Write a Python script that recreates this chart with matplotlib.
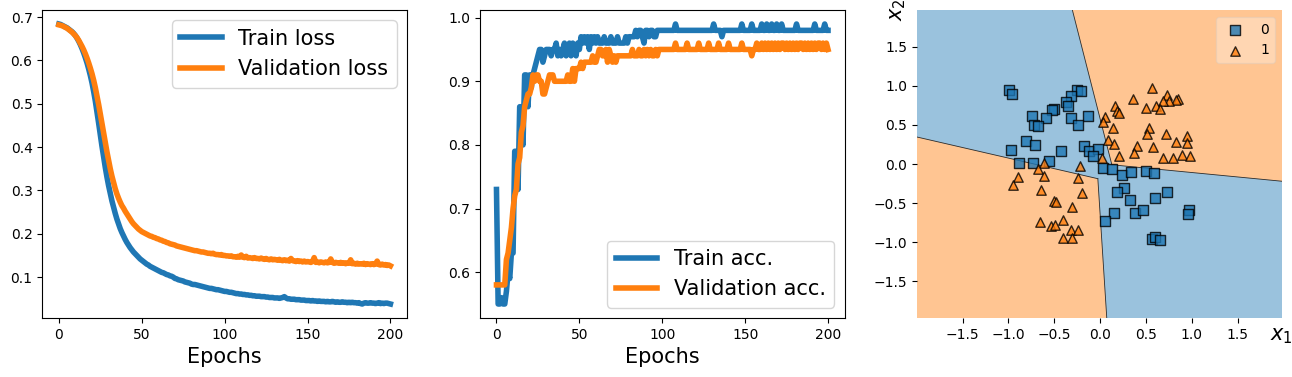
import numpy as np
import matplotlib
matplotlib.use("Agg")
import matplotlib.pyplot as plt
from matplotlib.patches import Polygon

# ---------------- data ----------------
train_loss = [
    0.684, 0.683, 0.681, 0.679, 0.677, 0.675, 0.672, 0.669, 0.666, 0.662,
    0.657, 0.651, 0.644, 0.636, 0.627, 0.617, 0.606, 0.594, 0.580, 0.565,
    0.548, 0.528, 0.506, 0.481, 0.455, 0.428, 0.402, 0.377, 0.353, 0.331,
    0.311, 0.293, 0.276, 0.261, 0.247, 0.234, 0.223, 0.212, 0.203, 0.195,
    0.187, 0.180, 0.174, 0.168, 0.163, 0.158, 0.154, 0.150, 0.146, 0.142,
    0.139, 0.136, 0.133, 0.130, 0.128, 0.125, 0.123, 0.121, 0.119, 0.117,
    0.115, 0.113, 0.111, 0.110, 0.108, 0.106, 0.105, 0.103, 0.102, 0.100,
    0.097, 0.096, 0.094, 0.093, 0.092, 0.091, 0.089, 0.088, 0.087, 0.086,
    0.084, 0.083, 0.083, 0.082, 0.081, 0.080, 0.079, 0.078, 0.077, 0.076,
    0.075, 0.074, 0.074, 0.073, 0.072, 0.071, 0.071, 0.070, 0.069, 0.068,
    0.067, 0.067, 0.066, 0.065, 0.065, 0.064, 0.063, 0.062, 0.062, 0.061,
    0.061, 0.060, 0.060, 0.059, 0.059, 0.058, 0.058, 0.057, 0.057, 0.056,
    0.056, 0.056, 0.055, 0.055, 0.055, 0.054, 0.054, 0.053, 0.053, 0.053,
    0.052, 0.052, 0.052, 0.051, 0.052, 0.053, 0.055, 0.052, 0.050, 0.050,
    0.049, 0.049, 0.049, 0.048, 0.048, 0.048, 0.047, 0.047, 0.047, 0.046,
    0.046, 0.046, 0.045, 0.046, 0.045, 0.045, 0.044, 0.045, 0.044, 0.044,
    0.044, 0.043, 0.044, 0.043, 0.043, 0.044, 0.043, 0.042, 0.043, 0.042,
    0.042, 0.043, 0.042, 0.042, 0.041, 0.042, 0.041, 0.042, 0.041, 0.041,
    0.040, 0.041, 0.039, 0.038, 0.040, 0.041, 0.040, 0.040, 0.041, 0.040,
    0.040, 0.039, 0.040, 0.041, 0.039, 0.040, 0.039, 0.040, 0.040, 0.039, 0.038,
]

val_loss = [
    0.682, 0.681, 0.680, 0.678, 0.676, 0.674, 0.671, 0.668, 0.665, 0.661,
    0.657, 0.652, 0.646, 0.639, 0.632, 0.624, 0.615, 0.605, 0.594, 0.582,
    0.569, 0.554, 0.537, 0.518, 0.498, 0.476, 0.454, 0.432, 0.410, 0.389,
    0.369, 0.350, 0.333, 0.318, 0.304, 0.292, 0.282, 0.273, 0.265, 0.259,
    0.252, 0.246, 0.240, 0.234, 0.228, 0.223, 0.219, 0.215, 0.211, 0.208,
    0.205, 0.203, 0.201, 0.199, 0.197, 0.195, 0.194, 0.192, 0.191, 0.189,
    0.188, 0.186, 0.185, 0.183, 0.182, 0.180, 0.179, 0.177, 0.176, 0.175,
    0.174, 0.172, 0.171, 0.170, 0.169, 0.168, 0.167, 0.166, 0.165, 0.164,
    0.163, 0.162, 0.161, 0.161, 0.160, 0.159, 0.158, 0.158, 0.157, 0.156,
    0.155, 0.155, 0.154, 0.155, 0.153, 0.152, 0.152, 0.151, 0.152, 0.150,
    0.150, 0.149, 0.149, 0.148, 0.149, 0.147, 0.147, 0.146, 0.148, 0.146,
    0.151, 0.146, 0.145, 0.148, 0.144, 0.145, 0.144, 0.143, 0.145, 0.143,
    0.143, 0.142, 0.144, 0.142, 0.141, 0.143, 0.141, 0.140, 0.142, 0.140,
    0.141, 0.140, 0.139, 0.141, 0.139, 0.138, 0.140, 0.138, 0.139, 0.137,
    0.143, 0.138, 0.137, 0.136, 0.138, 0.136, 0.137, 0.135, 0.137, 0.135,
    0.136, 0.135, 0.134, 0.136, 0.145, 0.134, 0.135, 0.133, 0.135, 0.134,
    0.133, 0.135, 0.133, 0.134, 0.142, 0.134, 0.132, 0.134, 0.133, 0.132,
    0.134, 0.132, 0.133, 0.131, 0.133, 0.132, 0.140, 0.131, 0.132, 0.130,
    0.132, 0.130, 0.131, 0.130, 0.132, 0.129, 0.131, 0.130, 0.129, 0.131,
    0.129, 0.130, 0.137, 0.129, 0.128, 0.130, 0.128, 0.129, 0.127, 0.128, 0.126,
]

# accuracies in percent
train_acc_pct = [
    73,
    55, 55, 56, 55, 55,
    57, 60, 59, 63, 63,
    79, 79, 73, 86, 86,
    80, 91, 91, 86, 91,
    89, 91, 92, 93, 94,
    95, 95, 93, 94, 95,
    95, 95, 94, 95, 95, 96, 94, 95, 94, 95,
    96, 94, 95, 96, 94, 96, 95, 94, 96, 95,
    97, 96, 97, 96, 97, 95, 97, 96, 97, 96, 97, 96,
    96, 96, 97, 96, 96, 96, 97, 96, 96, 96, 97, 96, 96, 96, 96, 97, 96, 97,
    97, 97, 97, 98, 97, 98, 98, 97, 96, 98, 98, 97, 98, 98, 97, 97, 98, 98, 98, 98,
    98, 98, 98, 98, 98, 98, 98, 99, 98, 98,
    98, 98, 98, 98, 98, 98, 98, 98, 98, 98,
    98, 98, 98, 98, 98, 98, 98, 98, 98, 98,
    99, 98, 98, 98, 98, 97, 98, 98, 98, 98,
    98, 98, 98, 98, 98, 98, 98, 99, 98, 98,
    98, 98, 98, 99, 98, 98, 98, 98, 98, 99,
    98, 98, 99, 98, 98, 99, 98, 98, 99, 98,
    98, 99, 98, 98, 98, 98, 98, 98, 98, 98,
    99, 98, 98, 98, 98, 98, 98, 98, 98, 98,
    98, 99, 98, 98, 98, 98, 98, 99, 98, 98,
]

val_acc_pct = [
    58, 58, 58, 58, 58, 58,
    62, 63, 65, 67, 70,
    72, 73, 77, 78, 82,
    83, 86, 87, 88, 88,
    89, 91, 90, 91, 91,
    90, 90, 88, 88, 89,
    90, 91, 91, 91, 90,
    90, 90, 90, 90, 90, 90, 90, 91, 90, 90,
    92, 90, 92, 92, 92,
    93, 92, 93, 93, 93,
    93, 93, 94, 93, 93, 94, 95,
    95, 94, 94, 95, 93, 95, 94, 93,
    94, 93, 94, 94, 94, 94, 94, 94, 94, 94, 94, 95, 94, 94, 94,
    95, 94, 94, 95, 94, 95, 94, 95, 94, 94, 95, 94, 95, 95, 95,
    95, 95, 95, 95, 95, 95, 95, 96, 95, 95,
    95, 95, 95, 95, 96, 95, 95, 95, 95, 95,
    95, 96, 95, 95, 95, 95, 95, 96, 95, 95,
    95, 95, 95, 96, 95, 95, 95, 95, 95, 96,
    95, 95, 95, 95, 95, 95, 95, 96, 95, 95,
    95, 95, 95, 94, 95, 95, 96, 95, 95, 96,
    95, 96, 95, 96, 95, 96, 95, 96, 95, 96,
    95, 96, 96, 95, 96, 95, 96, 95, 96, 95,
    96, 95, 96, 96, 95, 96, 95, 96, 95, 96,
    95, 96, 95, 96, 96, 95, 96, 95, 96, 95,
]

# validation points, class 0 (squares)
class0_x = [-0.997, -0.964, -0.254, -0.206, -0.322, -0.370, -0.348, -0.505, -0.523,
            -0.745, -0.585, -0.322, -0.133, -0.716, -0.680, -0.239, -0.811, -0.705,
            -0.971, -0.428, -0.177, -0.122, -0.024, -0.078, -0.887, -0.734, -0.556,
            0.031, 0.129, 0.239, 0.337, 0.498, 0.589, 0.261, 0.181, 0.727, 0.323,
            0.596, 0.151, 0.380, 0.464, 0.053, 0.971, 0.964, 0.567, 0.600, 0.658]
class0_y = [0.953, 0.897, 0.953, 0.932, 0.876, 0.791, 0.748, 0.705, 0.697,
            0.615, 0.590, 0.590, 0.615, 0.500, 0.491, 0.500, 0.299, 0.244,
            0.179, 0.162, 0.235, 0.171, 0.192, 0.098, 0.013, 0.013, 0.038,
            -0.051, -0.064, -0.137, -0.098, -0.090, -0.115, -0.308, -0.363, -0.359, -0.462,
            -0.436, -0.628, -0.628, -0.590, -0.726, -0.585, -0.637, -0.957, -0.936, -0.970]

# validation points, class 1 (triangles)
class1_x = [0.567, 0.727, 0.851, 0.833, 0.749, 0.687, 0.359, 0.158, 0.184, 0.206,
            0.498, 0.614, 0.651, 0.057, 0.031, 0.140, 0.534, 0.509, 0.716, 0.949,
            0.949, 0.825, 0.086, 0.151, 0.402, 0.578, 0.370, 0.206, 0.020, 0.687,
            0.796, 0.891, 0.982, -0.220, -0.610, -0.680, -0.607, -0.898, -0.945, -0.242,
            -0.202, -0.643, -0.505, -0.483, -0.311, -0.658, -0.538, -0.494, -0.407, -0.319,
            -0.239, -0.407, -0.301]
class1_y = [0.970, 0.889, 0.829, 0.816, 0.808, 0.808, 0.833, 0.748, 0.675, 0.650,
            0.718, 0.739, 0.705, 0.603, 0.538, 0.462, 0.462, 0.389, 0.389, 0.363,
            0.269, 0.278, 0.312, 0.256, 0.226, 0.222, 0.141, 0.107, 0.077, 0.077,
            0.077, 0.120, 0.098, -0.021, 0.013, -0.064, -0.150, -0.167, -0.269, -0.179,
            -0.372, -0.338, -0.470, -0.483, -0.556, -0.744, -0.791, -0.786, -0.714, -0.850,
            -0.842, -0.949, -0.949]

# decision boundary segments of the trained model (data coords)
bound_top_x, bound_top_y = [-0.352, 0.129], [2.2, -0.010]
bound_right_x, bound_right_y = [0.129, 2.2], [-0.010, -0.245]
bound_left_x, bound_left_y = [-2.2, -0.024], [0.400, -0.188]
bound_bottom_x, bound_bottom_y = [-0.024, 0.086], [-0.188, -2.2]

class_labels = ['0', '1']

# ---------------- figure ----------------
assert len(train_loss) == 201 and len(val_loss) == 201
assert len(train_acc_pct) == 201 and len(val_acc_pct) == 201

W, H = 1292, 377
fig = plt.figure(figsize=(W / 100, H / 100), dpi=100)
aw, ah = 364.7 / W, 308 / H
ab = (H - 318) / H
ax1 = fig.add_axes([42.3 / W, ab, aw, ah])
ax2 = fig.add_axes([479.9 / W, ab, aw, ah])
ax3 = fig.add_axes([917.0 / W, ab, aw, ah])

ep = np.arange(len(train_loss))
ax1.plot(ep, train_loss, lw=4)
ax1.plot(ep, val_loss, lw=4)
ax1.legend(['Train loss', 'Validation loss'], fontsize=15, loc='upper right')
ax1.set_xlabel('Epochs', size=15)

ep2 = np.arange(len(train_acc_pct))
ax2.plot(ep2, np.array(train_acc_pct) / 100.0, lw=4)
ax2.plot(ep2, np.array(val_acc_pct) / 100.0, lw=4)
ax2.legend(['Train acc.', 'Validation acc.'], fontsize=15, loc='lower right')
ax2.set_xlabel('Epochs', size=15)

# decision regions
all_x = class0_x + class1_x
all_y = class0_y + class1_y
x_min, x_max = min(all_x) - 1, max(all_x) + 1
y_min, y_max = min(all_y) - 1, max(all_y) + 1

blue_fill = (0.604, 0.761, 0.867)
orange_fill = (1.0, 0.773, 0.573)
ax3.add_patch(Polygon([(x_min, y_min), (x_max, y_min), (x_max, y_max), (x_min, y_max)],
                      closed=True, facecolor=orange_fill, edgecolor='none', zorder=0))
blue_poly = [(-2.2, 2.2), (bound_top_x[0], bound_top_y[0]), (bound_top_x[1], bound_top_y[1]),
             (bound_right_x[1], bound_right_y[1]), (2.2, -2.2),
             (bound_bottom_x[1], bound_bottom_y[1]), (bound_bottom_x[0], bound_bottom_y[0]),
             (bound_left_x[0], bound_left_y[0])]
ax3.add_patch(Polygon(blue_poly, closed=True, facecolor=blue_fill, edgecolor='none', zorder=0))
for bx, by in [(bound_top_x, bound_top_y), (bound_right_x, bound_right_y),
               (bound_left_x, bound_left_y), (bound_bottom_x, bound_bottom_y)]:
    ax3.plot(bx, by, color='#2b2b2b', lw=0.6, zorder=1)

ax3.scatter(class0_x, class0_y, marker='s', s=46, c='#1f77b4', edgecolor='black',
            alpha=0.8, label=class_labels[0], zorder=2)
ax3.scatter(class1_x, class1_y, marker='^', s=46, c='#ff7f0e', edgecolor='black',
            alpha=0.8, label=class_labels[1], zorder=2)
ax3.set_xlim(x_min, x_max)
ax3.set_ylim(y_min, y_max)
for sp in ax3.spines.values():
    sp.set_visible(False)
ax3.legend(loc='upper right', framealpha=0.3, scatterpoints=1)
ax3.set_xlabel(r'$x_1$', size=15)
ax3.xaxis.set_label_coords(1, -0.025)
ax3.set_ylabel(r'$x_2$', size=15)
ax3.yaxis.set_label_coords(-0.025, 1)

fig.savefig('out.png', dpi=100)
